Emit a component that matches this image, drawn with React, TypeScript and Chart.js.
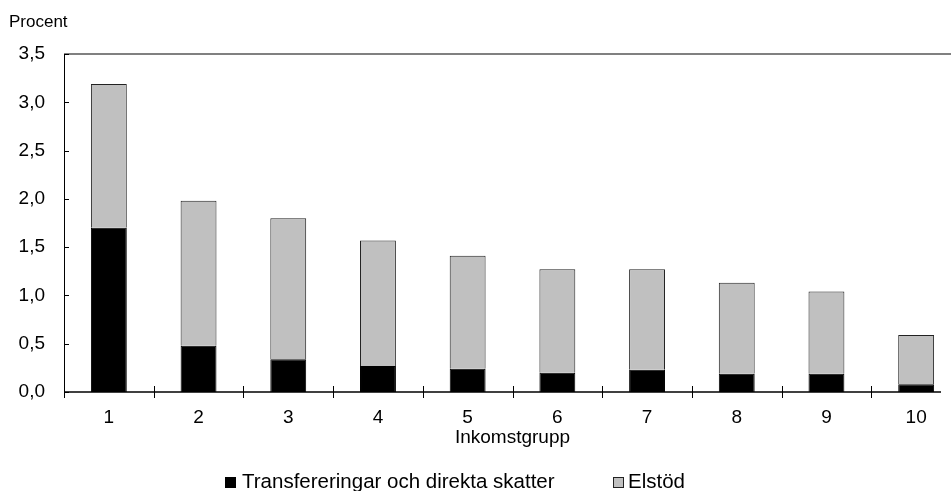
import React, { useEffect, useRef } from "react";
import { Chart, registerables } from "chart.js";

Chart.register(...registerables);

const categories = ["1", "2", "3", "4", "5", "6", "7", "8", "9", "10"];
const transfers = [1.70, 0.48, 0.34, 0.27, 0.24, 0.20, 0.23, 0.19, 0.19, 0.08];
const elstod = [1.49, 1.50, 1.46, 1.30, 1.17, 1.07, 1.04, 0.94, 0.85, 0.51];
const seriesNames = ["Transfereringar och direkta skatter", "Elstöd"];
const yUnit = "Procent";
const xTitle = "Inkomstgrupp";

const FONT = "'Liberation Sans', Arial, sans-serif";

const extras = {
  id: "extras",
  afterDraw(chart: any) {
    const { ctx, chartArea, scales } = chart;
    const x = scales.x;
    const y = scales.y;
    ctx.save();
    // top frame line
    ctx.strokeStyle = "#808080";
    ctx.lineWidth = 2;
    ctx.beginPath();
    ctx.moveTo(chartArea.left, chartArea.top);
    ctx.lineTo(chartArea.right, chartArea.top);
    ctx.stroke();
    // x axis line
    ctx.strokeStyle = "#000";
    ctx.lineWidth = 1.5;
    ctx.beginPath();
    ctx.moveTo(chartArea.left, chartArea.bottom);
    ctx.lineTo(chartArea.right - 20, chartArea.bottom);
    ctx.stroke();
    // y ticks (inward)
    ctx.lineWidth = 1;
    ctx.beginPath();
    for (const t of y.ticks) {
      const py = Math.round(y.getPixelForValue(t.value)) + 0.5;
      ctx.moveTo(chartArea.left, py);
      ctx.lineTo(chartArea.left + 5, py);
    }
    // x ticks (crossing)
    for (let i = 0; i < categories.length; i++) {
      const px = Math.round(x.getPixelForValue(i - 0.5)) + 0.5;
      ctx.moveTo(px, chartArea.bottom - (i === 0 ? 0 : 6));
      ctx.lineTo(px, chartArea.bottom + 6);
    }
    ctx.stroke();
    // unit label
    ctx.fillStyle = "#000";
    ctx.font = `17px ${FONT}`;
    ctx.textBaseline = "middle";
    ctx.textAlign = "left";
    ctx.fillText(yUnit, 9, 22);
    // legend
    const ly = 482;
    ctx.font = `20.5px ${FONT}`;
    ctx.fillStyle = "#000";
    ctx.fillRect(225, ly - 5, 11, 11);
    ctx.fillText(chart.data.datasets[0].label, 242, ly);
    ctx.fillStyle = "#C0C0C0";
    ctx.fillRect(613, ly - 5, 11, 11);
    ctx.strokeStyle = "#222";
    ctx.strokeRect(613.5, ly - 4.5, 10, 10);
    ctx.fillStyle = "#000";
    ctx.fillText(chart.data.datasets[1].label, 628, ly);
    ctx.restore();
  },
};

export default function App() {
  const ref = useRef<HTMLCanvasElement>(null);
  useEffect(() => {
    if (!ref.current) return;
    const chart = new Chart(ref.current, {
      type: "bar",
      data: {
        labels: categories,
        datasets: [
          {
            label: seriesNames[0],
            data: transfers,
            backgroundColor: "#000000",
            borderColor: "#000000",
            borderWidth: 1,
            categoryPercentage: 1,
            barPercentage: 0.4,
          },
          {
            label: seriesNames[1],
            data: elstod,
            backgroundColor: "#C0C0C0",
            borderColor: "#222222",
            borderWidth: 1,
            categoryPercentage: 1,
            barPercentage: 0.4,
          },
        ],
      },
      options: {
        responsive: false,
        animation: false,
        layout: { padding: { top: 54, left: 8, right: 14, bottom: 42 } },
        plugins: {
          legend: { display: false },
          tooltip: { enabled: false },
          title: { display: false },
        },
        scales: {
          x: {
            stacked: true,
            grid: { display: false, drawTicks: false },
            border: { display: false },
            ticks: { color: "#000", font: { family: FONT, size: 19 }, padding: 14, maxRotation: 0 },
            title: { display: true, text: xTitle, color: "#000", font: { family: FONT, size: 19 }, padding: 0 },
            afterFit: (s: any) => {
              s.height = 57;
            },
          },
          y: {
            stacked: true,
            min: 0,
            max: 3.5,
            grid: { display: false, drawTicks: false },
            border: { display: true, color: "#000", width: 1 },
            ticks: {
              stepSize: 0.5,
              color: "#000",
              font: { family: FONT, size: 19 },
              padding: 19,
              callback: (v: any) => Number(v).toFixed(1).replace(".", ","),
            },
            afterFit: (s: any) => {
              s.width = 56;
            },
          },
        },
      },
      plugins: [extras],
    });
    return () => chart.destroy();
  }, []);
  return (
    <div style={{ position: "absolute", left: 0, top: 0, width: 951, height: 491, overflow: "hidden" }}>
      <canvas
        ref={ref}
        width={975}
        height={491}
        style={{ display: "block", width: 975, height: 491 }}
      />
    </div>
  );
}
